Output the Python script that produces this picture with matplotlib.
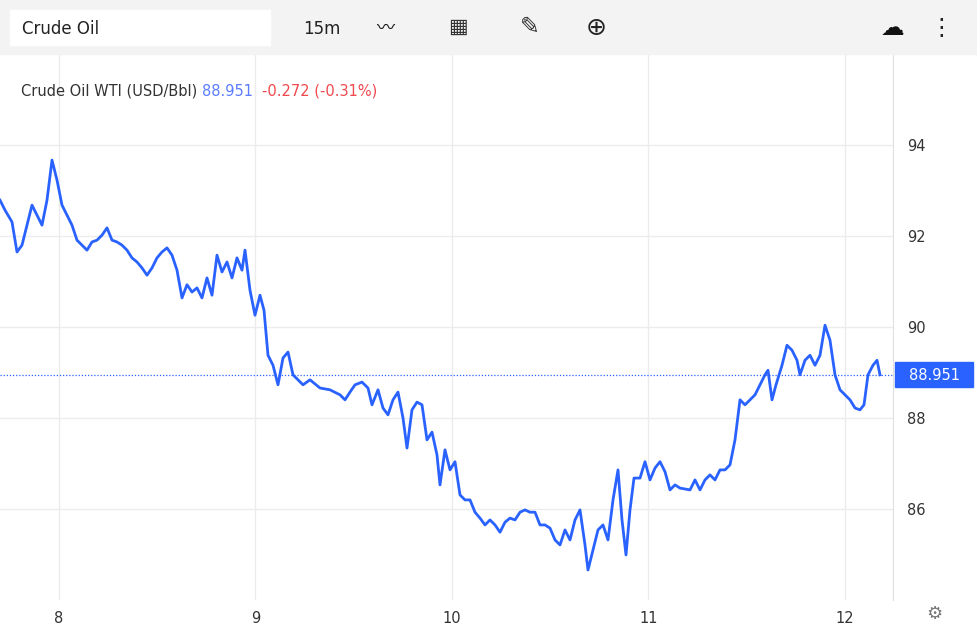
import matplotlib.pyplot as plt
import numpy as np
from matplotlib.patches import Rectangle, FancyBboxPatch

# time readings (pixels along the time axis, 196.5 px per day, 0 = day 7.70) and prices
x_read = [0, 5, 12, 17, 22, 27, 32, 37, 42, 47, 52, 57, 62, 67, 72, 77, 82, 87, 92, 97,
          102, 107, 112, 117, 122, 127, 132, 137, 142, 147, 152, 157, 162, 167, 172, 177,
          182, 187, 192, 197, 202, 207, 212, 217, 222, 227, 232, 237, 242, 245, 250, 255,
          260, 264, 268, 273, 278, 283, 288, 293, 298, 303, 310, 320, 330, 340, 345, 350,
          355, 362, 368, 372, 378, 383, 388, 393, 398, 403, 407, 412, 417, 422, 427, 432,
          437, 440, 445, 450, 455, 460, 465, 470, 475, 480, 485, 490, 495, 500, 505, 510,
          515, 520, 525, 530, 535, 540, 545, 550, 555, 560, 565, 570, 575, 580, 585, 588,
          593, 598, 603, 608, 613, 618, 622, 626, 630, 634, 640, 645, 650, 655, 660, 665,
          670, 675, 680, 690, 695, 700, 705, 710, 715, 720, 725, 730, 735, 740, 745, 750,
          755, 760, 765, 768, 772, 776, 782, 787, 792, 797, 800, 805, 810, 815, 820, 825,
          830, 835, 840, 845, 850, 855, 860, 864, 868, 873, 877, 880]
price = [92.79, 92.57, 92.31, 91.65, 91.80, 92.24, 92.68, 92.46, 92.24, 92.79, 93.67, 93.23,
         92.68, 92.46, 92.24, 91.91, 91.80, 91.69, 91.87, 91.91, 92.02, 92.18, 91.91, 91.87,
         91.80, 91.69, 91.52, 91.43, 91.30, 91.14, 91.30, 91.52, 91.65, 91.74, 91.58, 91.25,
         90.64, 90.93, 90.77, 90.86, 90.64, 91.08, 90.70, 91.58, 91.21, 91.43, 91.08, 91.52,
         91.25, 91.69, 90.81, 90.26, 90.70, 90.37, 89.38, 89.16, 88.73, 89.32, 89.45, 88.95,
         88.84, 88.73, 88.84, 88.66, 88.62, 88.51, 88.40, 88.57, 88.73, 88.79, 88.66, 88.29,
         88.62, 88.22, 88.07, 88.40, 88.57, 88.00, 87.34, 88.18, 88.35, 88.29, 87.52, 87.69,
         87.19, 86.53, 87.30, 86.86, 87.04, 86.31, 86.20, 86.20, 85.93, 85.80, 85.65, 85.76,
         85.65, 85.49, 85.71, 85.80, 85.76, 85.93, 85.98, 85.93, 85.93, 85.65, 85.65, 85.58,
         85.32, 85.21, 85.54, 85.32, 85.76, 85.98, 85.21, 84.66, 85.10, 85.54, 85.65, 85.32,
         86.20, 86.86, 85.76, 84.99, 85.98, 86.68, 86.68, 87.04, 86.64, 86.90, 87.04, 86.82,
         86.42, 86.53, 86.46, 86.42, 86.64, 86.42, 86.64, 86.75, 86.64, 86.86, 86.86, 86.97,
         87.52, 88.40, 88.29, 88.40, 88.51, 88.73, 88.95, 89.05, 88.40, 88.73, 89.16, 89.60,
         89.49, 89.27, 88.95, 89.27, 89.38, 89.16, 89.38, 90.04, 89.71, 88.95, 88.62, 88.51,
         88.40, 88.22, 88.18, 88.29, 88.95, 89.16, 89.27, 88.95]
last_price = 88.951
change = "-0.272 (-0.31%)"
day_ticks = [8, 9, 10, 11, 12]
price_ticks = [86, 88, 90, 92, 94]

days = 7.70 + np.array(x_read) / 196.5

W, H = 977, 641
fig = plt.figure(figsize=(W / 100, H / 100), dpi=100)
fig.patch.set_facecolor("white")
ax = fig.add_axes([0, 41 / H, 893 / W, 545 / H])
ax.plot(days, price, color="#2962ff", lw=2.0)
ax.axhline(last_price, color="#2962ff", lw=0.9, ls=(0, (1, 1.5)))
ax.set_xlim(7.70, 7.70 + 893 / 196.5)
ax.set_ylim(84.0, 95.98)
ax.set_xticks(day_ticks)
ax.set_yticks(price_ticks)
ax.grid(color="#ececec", lw=1)
ax.yaxis.tick_right()
ax.tick_params(length=0, labelsize=10.5, colors="#333333", pad=10)
ax.tick_params(axis="x", pad=8)
for s in ax.spines.values():
    s.set_visible(False)
ax.spines["right"].set_visible(True)
ax.spines["right"].set_color("#e0e0e0")

# price label on the right axis
fig.patches.append(Rectangle((895 / W, 1 - 387 / H), 78 / W, 25 / H,
                             transform=fig.transFigure, color="#2962ff"))
fig.text(934 / W, 1 - 375 / H, f"{last_price:.3f}", color="white", fontsize=10.5,
         ha="center", va="center")

# legend line
t = fig.text(21 / W, 1 - 91 / H, "Crude Oil WTI (USD/Bbl) ", fontsize=10.5, color="#333333", va="center")
fig.canvas.draw()
bb = t.get_window_extent()
t2 = fig.text(bb.x1 / W, 1 - 91 / H, f"{last_price:.3f}  ", fontsize=10.5, color="#5b7cff", va="center")
fig.canvas.draw()
bb2 = t2.get_window_extent()
fig.text(bb2.x1 / W, 1 - 91 / H, change, fontsize=10.5, color="#f0484d", va="center")

# header toolbar
fig.patches.append(Rectangle((0, 1 - 54 / H), 1, 54 / H, transform=fig.transFigure, color="#f3f3f3"))
fig.patches.append(Rectangle((10 / W, 1 - 45 / H), 260 / W, 35 / H, transform=fig.transFigure, color="white"))
fig.text(22 / W, 1 - 29 / H, "Crude Oil", fontsize=12, color="#222222", va="center")
fig.text(322 / W, 1 - 29 / H, "15m", fontsize=12, color="#222222", va="center", ha="center")
fig.text(386 / W, 1 - 28 / H, "〰", fontsize=13, color="#111111", va="center", ha="center",
         family=["Noto Sans CJK SC", "DejaVu Sans"])
fig.text(458 / W, 1 - 27 / H, "▦", fontsize=15, color="#333333", va="center", ha="center")
fig.text(530 / W, 1 - 27 / H, "✎", fontsize=17, color="#333333", va="center", ha="center")
fig.text(596 / W, 1 - 28 / H, "⊕", fontsize=18, color="#222222", va="center", ha="center")
fig.text(893 / W, 1 - 28 / H, "☁", fontsize=17, color="#111111", va="center", ha="center")
fig.text(941 / W, 1 - 28 / H, "⋮", fontsize=17, color="#222222", va="center", ha="center")
fig.text(934 / W, 1 - 614 / H, "⚙", fontsize=13, color="#777777", va="center", ha="center")

fig.savefig("out.png", dpi=100)
